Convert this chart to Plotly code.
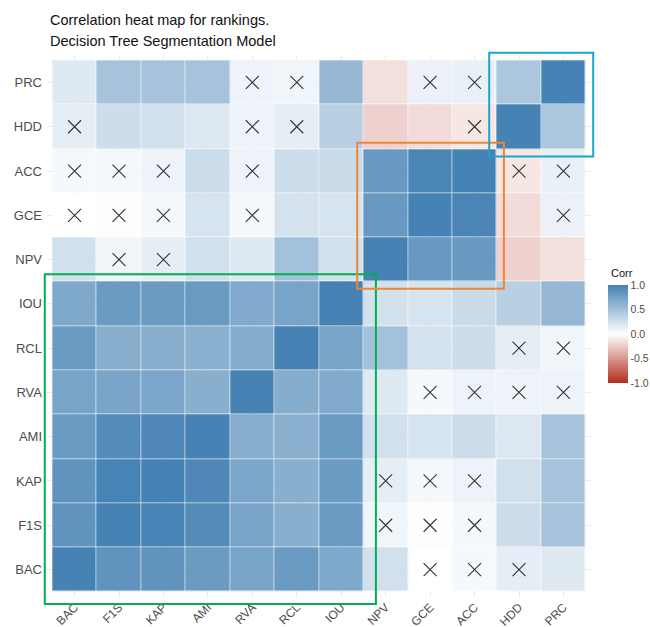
import plotly.graph_objects as go

# Ranking metrics (bottom-to-top on y, left-to-right on x)
labels = ["BAC", "F1S", "KAP", "AMI", "RVA", "RCL", "IOU", "NPV", "GCE", "ACC", "HDD", "PRC"]

# Correlation of each metric with every metric, in the order of `labels`
corr_BAC = [1.00, 0.86, 0.86, 0.80, 0.73, 0.80, 0.69, 0.25, 0.00, 0.05, 0.14, 0.18]
corr_F1S = [0.86, 1.00, 0.99, 0.93, 0.72, 0.64, 0.80, 0.08, -0.01, 0.06, 0.27, 0.48]
corr_KAP = [0.86, 0.99, 1.00, 0.95, 0.71, 0.64, 0.80, 0.14, 0.06, 0.10, 0.25, 0.48]
corr_AMI = [0.80, 0.93, 0.95, 1.00, 0.64, 0.63, 0.81, 0.25, 0.22, 0.28, 0.19, 0.48]
corr_RVA = [0.73, 0.72, 0.71, 0.64, 1.00, 0.66, 0.68, 0.18, 0.05, 0.10, 0.10, 0.10]
corr_RCL = [0.80, 0.64, 0.64, 0.63, 0.66, 1.00, 0.73, 0.50, 0.23, 0.27, 0.14, 0.08]
corr_IOU = [0.69, 0.80, 0.80, 0.81, 0.68, 0.73, 1.00, 0.24, 0.22, 0.29, 0.38, 0.57]
corr_NPV = [0.25, 0.08, 0.14, 0.25, 0.18, 0.50, 0.24, 1.00, 0.82, 0.82, -0.22, -0.15]
corr_GCE = [0.00, -0.01, 0.06, 0.22, 0.05, 0.23, 0.22, 0.82, 1.00, 0.98, -0.17, 0.11]
corr_ACC = [0.05, 0.06, 0.10, 0.28, 0.10, 0.27, 0.29, 0.82, 0.98, 1.00, -0.12, 0.12]
corr_HDD = [0.14, 0.27, 0.25, 0.19, 0.10, 0.14, 0.38, -0.22, -0.17, -0.12, 1.00, 0.45]
corr_PRC = [0.18, 0.48, 0.48, 0.48, 0.10, 0.08, 0.57, -0.15, 0.11, 0.12, 0.45, 1.00]

# Pairs whose correlation is not significant (drawn with a cross)
insignificant = [
    ("BAC", "GCE"), ("BAC", "ACC"), ("BAC", "HDD"),
    ("F1S", "NPV"), ("F1S", "GCE"), ("F1S", "ACC"),
    ("KAP", "NPV"), ("KAP", "GCE"), ("KAP", "ACC"),
    ("RVA", "GCE"), ("RVA", "ACC"), ("RVA", "HDD"), ("RVA", "PRC"),
    ("RCL", "HDD"), ("RCL", "PRC"),
    ("ACC", "HDD"), ("ACC", "PRC"), ("GCE", "PRC"),
]

# Highlighted metric groups: (first, last, outline colour)
groups = [
    ("BAC", "IOU", "#00B050"),
    ("NPV", "ACC", "#EE8537"),
    ("HDD", "PRC", "#1AA2D2"),
]

rows = [corr_BAC, corr_F1S, corr_KAP, corr_AMI, corr_RVA, corr_RCL,
        corr_IOU, corr_NPV, corr_GCE, corr_ACC, corr_HDD, corr_PRC]

colorscale = [[0.0, "#B22E1E"], [0.5, "#FFFFFF"], [1.0, "#4682B4"]]

# Plot area geometry (pixels) and shared axis range
W, H = 650, 627
ML, MR, MT, MB = 47, 59, 55, 30
RANGE = [-0.62, 11.62]
plot_w = W - ML - MR
plot_h = H - MT - MB


def to_paper(v):
    return (v - RANGE[0]) / (RANGE[1] - RANGE[0])


fig = go.Figure()

fig.add_trace(go.Heatmap(
    z=rows, x=labels, y=labels,
    zmin=-1, zmax=1,
    colorscale=colorscale,
    xgap=0.6, ygap=0.6,
    hovertemplate="%{x} / %{y}: %{z:.2f}<extra></extra>",
    colorbar=dict(
        x=(608 - ML) / plot_w, xanchor="left",
        y=(H - MB - 285) / plot_h, yanchor="top",
        lenmode="pixels", len=98, thickness=20,
        xpad=0, ypad=0, outlinewidth=0,
        tickvals=[1, 0.5, 0, -0.5, -1],
        ticktext=["1.0", "0.5", "0.0", "-0.5", "-1.0"],
        ticks="",
        tickfont=dict(family="Liberation Sans", size=10.5, color="#4D4D4D"),
    ),
))

# Crosses over non-significant cells (both halves of the symmetric matrix)
cx, cy = [], []
for a, b in insignificant:
    cx += [a, b]
    cy += [b, a]
fig.add_trace(go.Scatter(
    x=cx, y=cy, mode="markers", hoverinfo="skip", showlegend=False,
    marker=dict(symbol="x-thin", size=13, color="#333333",
                line=dict(width=1.1, color="#333333")),
))

# Outlines around metric groups
pads = {"BAC": (0.17, 0.28), "NPV": (0.14, 0.16), "HDD": (0.17, 0.17)}
for first, last, col in groups:
    i0, i1 = labels.index(first), labels.index(last)
    p_in, p_out = pads[first]
    fig.add_shape(type="rect", xref="paper", yref="paper",
                  x0=to_paper(i0 - 0.5 - p_in), x1=to_paper(i1 + 0.5 + p_out),
                  y0=to_paper(i0 - 0.5 - p_out), y1=to_paper(i1 + 0.5 + p_in),
                  line=dict(color=col, width=2), fillcolor="rgba(0,0,0,0)")

axis_common = dict(
    type="category", categoryorder="array", categoryarray=labels,
    range=RANGE, showgrid=True, gridcolor="#EBEBEB", gridwidth=1,
    zeroline=False, showline=False, ticks="", automargin=False,
)

fig.update_layout(
    width=W, height=H,
    margin=dict(l=ML, r=MR, t=MT, b=MB, autoexpand=False),
    plot_bgcolor="white", paper_bgcolor="white",
    xaxis=dict(**axis_common, tickangle=-45,
               tickfont=dict(family="Liberation Sans", size=12, color="#4D4D4D")),
    yaxis=dict(**axis_common, ticklabelstandoff=4,
               tickfont=dict(family="Liberation Sans", size=13, color="#4D4D4D")),
    showlegend=False,
    annotations=[
        dict(text="Correlation heat map for rankings.", xref="paper", yref="paper",
             x=0, y=1, xshift=1, yshift=35, xanchor="left", yanchor="middle",
             showarrow=False, font=dict(family="Liberation Sans", size=14.5, color="#111111")),
        dict(text="Decision Tree Segmentation Model", xref="paper", yref="paper",
             x=0, y=1, xshift=1, yshift=14, xanchor="left", yanchor="middle",
             showarrow=False, font=dict(family="Liberation Sans", size=14.5, color="#111111")),
        dict(text="Corr", xref="paper", yref="paper", x=1, y=1,
             xshift=18, yshift=-218, xanchor="left", yanchor="middle",
             showarrow=False, font=dict(family="Liberation Sans", size=11, color="#111111")),
    ],
)

fig.write_html("out.html")
